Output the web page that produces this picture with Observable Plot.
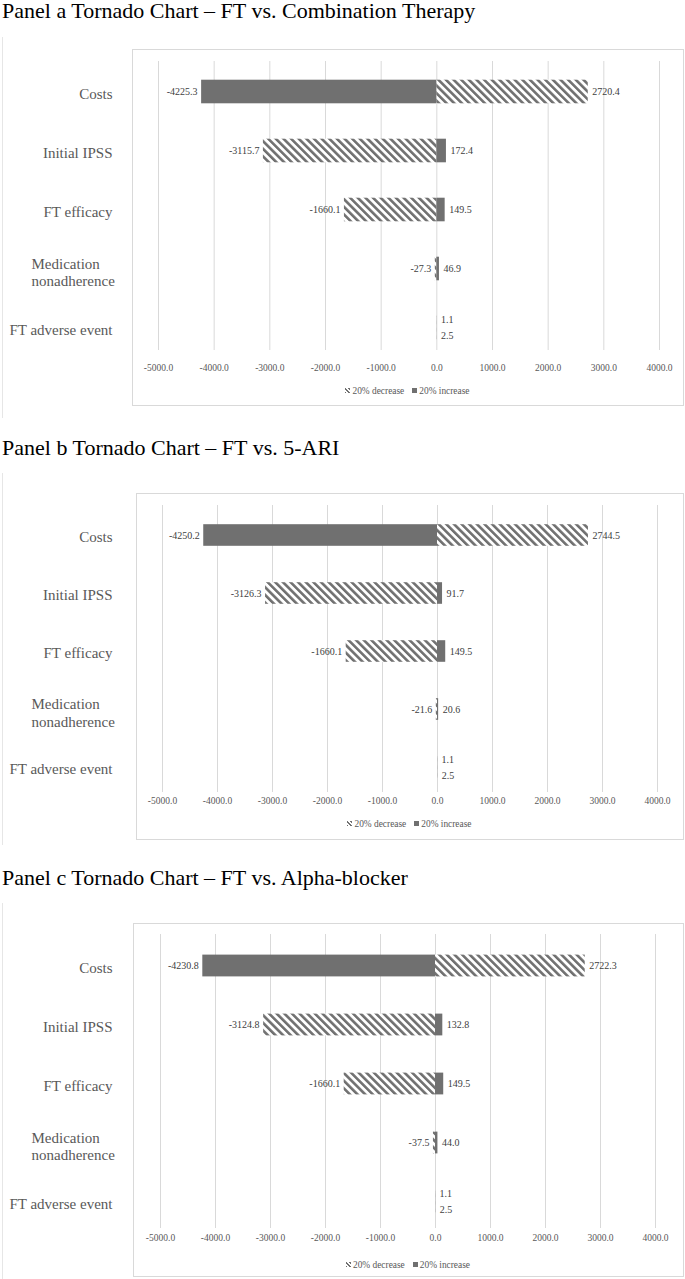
<!DOCTYPE html>
<html>
<head>
<meta charset="utf-8">
<script src="https://cdn.jsdelivr.net/npm/d3@7"></script>
<script src="https://cdn.jsdelivr.net/npm/@observablehq/plot@0.6"></script>
<style>
  html, body { margin: 0; padding: 0; background: #fff; }
  body { position: relative; width: 685px; height: 1279px; overflow: hidden; font-family: "Liberation Serif", "Times New Roman", serif; }
  .title { position: absolute; left: 2px; font-size: 22px; line-height: 21px; color: #000; white-space: nowrap; }
  .outer { position: absolute; left: 2px; width: 1px; background: #e6e6e6; }
  svg.chart { position: absolute; left: 0; }
  svg.chart, svg.chart text { font-family: "Liberation Serif", "Times New Roman", serif; }
  .legend { position: absolute; text-align: center; font-size: 9.4px; line-height: 12px; color: #595959; white-space: nowrap; }
  .legend .item { display: inline-block; margin: 0 4px; }
  .legend .sw { display: inline-block; width: 5px; height: 5px; margin-right: 2px; vertical-align: 1px; }
</style>
</head>
<body>
<script>
// ---- data ----
const categories = ["Costs", "Initial IPSS", "FT efficacy", "Medication nonadherence", "FT adverse event"];
const seriesNames = ["20% decrease", "20% increase"];
const tickValues = [-5000, -4000, -3000, -2000, -1000, 0, 1000, 2000, 3000, 4000];
const panelTitles = [
  "Panel a Tornado Chart \u2013 FT vs. Combination Therapy",
  "Panel b Tornado Chart \u2013 FT vs. 5-ARI",
  "Panel c Tornado Chart \u2013 FT vs. Alpha-blocker"
];
const decreaseA = [2720.4, -3115.7, -1660.1, -27.3, 1.1];
const increaseA = [-4225.3, 172.4, 149.5, 46.9, 2.5];
const decreaseB = [2744.5, -3126.3, -1660.1, -21.6, 1.1];
const increaseB = [-4250.2, 91.7, 149.5, 20.6, 2.5];
const decreaseC = [2722.3, -3124.8, -1660.1, -37.5, 1.1];
const increaseC = [-4230.8, 132.8, 149.5, 44.0, 2.5];

// ---- layout (page pixels) ----
const layouts = [
  {titleTop: 0,   outerTop: 37,  outerBottom: 418,  frameLeft: 132, frameTop: 49,  frameBottom: 405,  xRange: [158, 659], bandTop: 61,  bandBottom: 358,  barH: 24, gridTop: 61,  gridBottom: 350,  tickY: 370,  legendY: 391},
  {titleTop: 437, outerTop: 473, outerBottom: 845,  frameLeft: 136, frameTop: 493, frameBottom: 839,  xRange: [162, 657], bandTop: 505, bandBottom: 797,  barH: 22, gridTop: 505, gridBottom: 792,  tickY: 803,  legendY: 824},
  {titleTop: 867, outerTop: 903, outerBottom: 1279, frameLeft: 133, frameTop: 923, frameBottom: 1276, xRange: [160, 655], bandTop: 935, bandBottom: 1231, barH: 22, gridTop: 934, gridBottom: 1228, tickY: 1240, legendY: 1265}
];

const BAR = "#707070";
const GRID = "#d9d9d9";
const FONT = "Liberation Serif, Times New Roman, serif";

function wrapLabel(s) {
  return s.length > 18 ? s.replace(" ", "\n") : s;
}

function makePanel(idx, title, dec, inc, L) {
  const pid = "hatch" + idx;
  const rows = [];
  categories.forEach((c, i) => {
    const stacked = Math.sign(dec[i]) === Math.sign(inc[i]);
    rows.push({cat: c, series: seriesNames[0], value: dec[i], pos: stacked ? "up" : "mid"});
    rows.push({cat: c, series: seriesNames[1], value: inc[i], pos: stacked ? "down" : "mid"});
  });
  const svgTop = L.frameTop - 1;
  const H = L.frameBottom - L.frameTop + 2;
  const step = (L.bandBottom - L.bandTop) / categories.length;
  const inset = (step - L.barH) / 2;
  const fmt = d => d.value.toFixed(1);
  const labelMarks = [];
  for (const [pos, dy] of [["mid", 0], ["up", -8], ["down", 8]]) {
    labelMarks.push(Plot.text(rows.filter(d => d.pos === pos && d.value < 0), {
      x: "value", y: "cat", text: fmt, textAnchor: "end", dx: -4, dy, fontSize: 10, fill: "#404040", fontFamily: FONT
    }));
    labelMarks.push(Plot.text(rows.filter(d => d.pos === pos && d.value >= 0), {
      x: "value", y: "cat", text: fmt, textAnchor: "start", dx: 4, dy, fontSize: 10, fill: "#404040", fontFamily: FONT
    }));
  }
  const single = categories.filter(c => wrapLabel(c) === c);
  const wrapped = categories.filter(c => wrapLabel(c) !== c);

  const svg = Plot.plot({
    width: 685, height: H,
    marginTop: 1, marginBottom: 1, marginLeft: L.frameLeft, marginRight: 2,
    x: {domain: [tickValues[0], tickValues[tickValues.length - 1]], range: L.xRange, axis: null},
    y: {domain: categories, range: [L.bandTop - svgTop, L.bandBottom - svgTop], padding: 0, axis: null},
    style: {background: "transparent", overflow: "visible"},
    marks: [
      Plot.frame({stroke: GRID}),
      Plot.ruleX(tickValues, {stroke: GRID, strokeWidth: 1, insetTop: L.gridTop - L.frameTop, insetBottom: L.frameBottom - L.gridBottom}),
      Plot.barX(rows.filter(d => d.series === seriesNames[0]), {x: "value", y: "cat", fill: `url(#${pid})`, insetTop: inset, insetBottom: inset}),
      Plot.barX(rows.filter(d => d.series === seriesNames[1]), {x: "value", y: "cat", fill: BAR, insetTop: inset, insetBottom: inset}),
      ...labelMarks,
      Plot.text(single, {y: d => d, text: d => d, frameAnchor: "left", textAnchor: "end", dx: 112 - L.frameLeft, dy: 2, fontSize: 15, fill: "#595959", fontFamily: FONT}),
      Plot.text(wrapped, {y: d => d, text: d => wrapLabel(d), frameAnchor: "left", textAnchor: "start", dx: 31 - L.frameLeft, dy: 3, fontSize: 15, lineHeight: 1.17, fill: "#595959", fontFamily: FONT}),
      Plot.text(tickValues, {x: d => d, text: d => d.toFixed(1), frameAnchor: "bottom", dy: L.tickY - L.frameBottom, fontSize: 9.5, fill: "#595959", fontFamily: FONT})
    ]
  });
  svg.classList.add("chart");
  svg.style.top = svgTop + "px";
  const ns = "http://www.w3.org/2000/svg";
  const defs = document.createElementNS(ns, "defs");
  defs.innerHTML = `<pattern id="${pid}" patternUnits="userSpaceOnUse" width="5.4" height="5.4" patternTransform="rotate(-45)">
      <rect width="5.4" height="5.4" fill="#fff"/><rect width="2.6" height="5.4" fill="${BAR}"/></pattern>`;
  svg.insertBefore(defs, svg.firstChild);

  const t = document.createElement("div");
  t.className = "title";
  t.style.top = L.titleTop + "px";
  t.textContent = title;
  document.body.appendChild(t);

  const outer = document.createElement("div");
  outer.className = "outer";
  outer.style.top = L.outerTop + "px";
  outer.style.height = (L.outerBottom - L.outerTop) + "px";
  document.body.appendChild(outer);

  document.body.appendChild(svg);

  const legend = document.createElement("div");
  legend.className = "legend";
  legend.style.left = L.frameLeft + "px";
  legend.style.width = (683 - L.frameLeft) + "px";
  legend.style.top = (L.legendY - 6) + "px";
  legend.innerHTML =
    `<span class="item"><span class="sw" style="background: repeating-linear-gradient(45deg, ${BAR} 0 1.2px, #fff 1.2px 2.6px)"></span>${seriesNames[0]}</span>` +
    `<span class="item"><span class="sw" style="background:${BAR}"></span>${seriesNames[1]}</span>`;
  document.body.appendChild(legend);
}

makePanel("a", panelTitles[0], decreaseA, increaseA, layouts[0]);
makePanel("b", panelTitles[1], decreaseB, increaseB, layouts[1]);
makePanel("c", panelTitles[2], decreaseC, increaseC, layouts[2]);
</script>
</body>
</html>
